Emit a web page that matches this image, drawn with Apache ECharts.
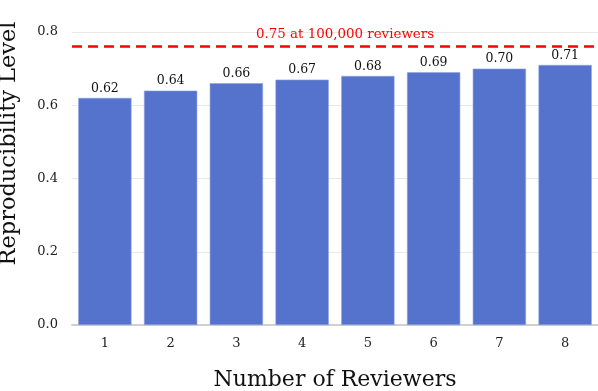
<!DOCTYPE html>
<html>
<head>
<meta charset="utf-8">
<script src="https://cdn.jsdelivr.net/npm/echarts@6/dist/echarts.min.js"></script>
<style>
  html, body { margin: 0; padding: 0; background: #fff; }
  #chart { width: 598px; height: 391px; }
</style>
</head>
<body>
<div id="chart"></div>
<script>
// 数据
var reviewers = ['1', '2', '3', '4', '5', '6', '7', '8'];
var reproducibility = [0.62, 0.64, 0.66, 0.67, 0.68, 0.69, 0.70, 0.71];
var refLevel = 0.764;
var refLabel = '0.75 at 100,000 reviewers';

var chart = echarts.init(document.getElementById('chart'));
var serif = 'DejaVu Serif';

var option = {
  animation: false,
  grid: { left: 72, right: 0, top: 32, bottom: 66, outerBoundsMode: 'none' },
  xAxis: {
    type: 'category',
    data: reviewers,
    name: 'Number of Reviewers',
    nameLocation: 'middle',
    nameGap: 44,
    nameTextStyle: { fontFamily: serif, fontSize: 22, color: '#111' },
    axisLine: { lineStyle: { color: '#d0d0d0', width: 2 } },
    axisTick: { show: false },
    axisLabel: { fontFamily: serif, fontSize: 13, color: '#222', margin: 12 }
  },
  yAxis: {
    type: 'value',
    min: 0,
    max: 0.8,
    interval: 0.2,
    name: 'Reproducibility Level',
    nameLocation: 'middle',
    nameGap: 51,
    // 标题整体偏上，用左侧 padding 把文字往上推
    nameTextStyle: { fontFamily: serif, fontSize: 22.5, color: '#111', padding: [0, 0, 0, 70] },
    axisLine: { show: false },
    axisTick: { show: false },
    axisLabel: {
      fontFamily: serif, fontSize: 13, color: '#222', margin: 14,
      formatter: function (v) { return v.toFixed(1); }
    },
    splitLine: { lineStyle: { color: '#e8e8e8', width: 1 } }
  },
  series: [{
    type: 'bar',
    data: reproducibility,
    barWidth: '81%',
    itemStyle: { color: '#5572cc', borderColor: '#8fa2e0', borderWidth: 0.6 },
    label: {
      show: true,
      position: 'top',
      distance: 3,
      fontFamily: serif,
      fontSize: 12.5,
      color: '#111',
      formatter: function (p) { return p.value.toFixed(2); }
    },
    markLine: {
      silent: true,
      symbol: 'none',
      data: [{ yAxis: refLevel }],
      lineStyle: { color: '#ff0000', type: [10, 6], width: 2.5 },
      label: {
        show: true,
        position: 'insideMiddleTop',
        distance: 6,
        offset: [10, 0],
        formatter: refLabel,
        fontFamily: serif,
        fontSize: 13.4,
        color: '#ff0000'
      }
    }
  }]
};

chart.setOption(option);
</script>
</body>
</html>
